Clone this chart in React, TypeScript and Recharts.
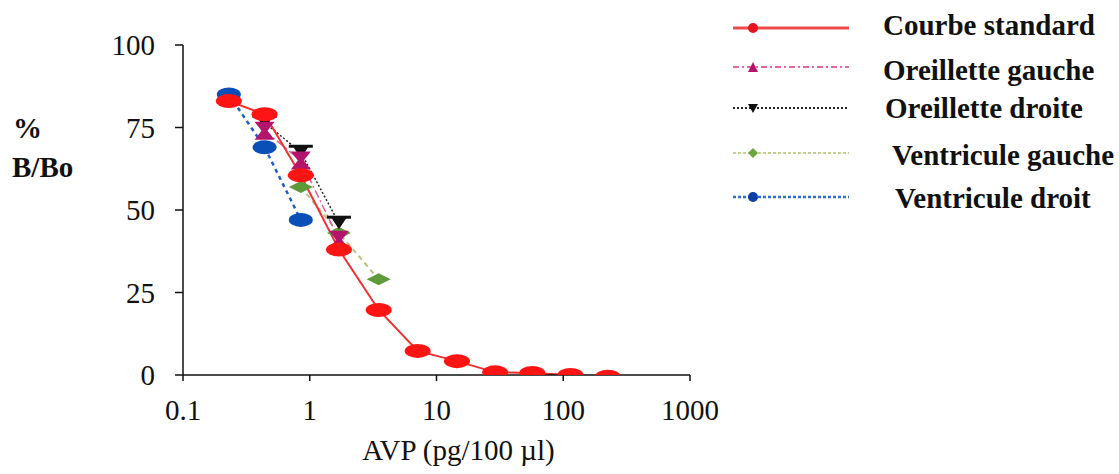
import React from "react"
import { LineChart, Line, XAxis, YAxis, Legend } from "recharts"

const stdDose = [0.23, 0.44, 0.85, 1.7, 3.5, 7.1, 14.5, 29, 57, 114, 225]
const stdValue = [83, 79, 60.5, 38, 19.7, 7.3, 4.2, 0.8, 0.6, 0, -0.5]

const ogDose = [0.44, 0.85, 1.7]
const ogValue = [74, 65, 41]

const odDose = [0.44, 0.85, 1.7]
const odValue = [76.5, 67.5, 46]

const vgDose = [0.85, 1.7, 3.5]
const vgValue = [57, 43, 29]

const vdDose = [0.23, 0.44, 0.85]
const vdValue = [85, 69, 47]

const xTicks = [0.1, 1, 10, 100, 1000]
const yTicks = [0, 25, 50, 75, 100]

const seriesNames = [
  "Courbe standard",
  "Oreillette gauche",
  "Oreillette droite",
  "Ventricule gauche",
  "Ventricule droit",
]

const toRows = (xs: number[], ys: number[]) => xs.map((x, i) => ({ x, v: ys[i] }))

const SERIF = "Liberation Serif, Times New Roman, serif"

const RedDot = (p: any) => (
  <ellipse key={p.key ?? p.index} cx={p.cx} cy={p.cy} rx={13} ry={7} fill="#ff1414" />
)
const BlueDot = (p: any) => (
  <ellipse key={p.key ?? p.index} cx={p.cx} cy={p.cy} rx={12} ry={7} fill="#0a4fb8" />
)
const PinkDot = (p: any) => {
  const { cx, cy } = p
  return (
    <polygon
      key={p.key ?? p.index}
      points={`${cx - 10},${cy - 9} ${cx + 10},${cy - 9} ${cx + 3},${cy} ${cx + 10},${cy + 9} ${cx - 10},${cy + 9} ${cx - 3},${cy}`}
      fill="#b3146c"
    />
  )
}
const BlackDot = (p: any) => {
  const { cx, cy } = p
  return (
    <g key={p.key ?? p.index}>
      <line x1={cx - 12} x2={cx + 12} y1={cy - 6} y2={cy - 6} stroke="#111" strokeWidth={3} />
      <polygon points={`${cx - 8},${cy - 6} ${cx + 8},${cy - 6} ${cx},${cy + 6}`} fill="#111" />
    </g>
  )
}
const GreenDot = (p: any) => {
  const { cx, cy } = p
  return (
    <polygon
      key={p.key ?? p.index}
      points={`${cx - 12},${cy} ${cx},${cy - 6} ${cx + 12},${cy} ${cx},${cy + 6}`}
      fill="#5e9a3a"
    />
  )
}

const legendRows = [
  { stroke: "#ef4a4a", dash: undefined, width: 3, lineY: 28, textY: 25, textX: 183 },
  { stroke: "#e8649e", dash: "6 3 2 3", width: 2, lineY: 67, textY: 70, textX: 183 },
  { stroke: "#222", dash: "2 2", width: 2, lineY: 108, textY: 108, textX: 185 },
  { stroke: "#c3cf8a", dash: "3 2", width: 2, lineY: 153, textY: 155, textX: 192 },
  { stroke: "#2f6fd0", dash: "3 2", width: 2.5, lineY: 197, textY: 198, textX: 195 },
]

const renderLegend = () => (
  <svg width={419} height={220} style={{ display: "block", fontFamily: SERIF }}>
    {legendRows.map((r, i) => {
      const mx = 53
      const my = r.lineY
      let marker: React.ReactNode = null
      if (i === 0) marker = <circle cx={mx} cy={my} r={5} fill="#e8141e" />
      if (i === 1) marker = <polygon points={`${mx - 5},${my + 5} ${mx + 5},${my + 5} ${mx},${my - 5}`} fill="#b3146c" />
      if (i === 2) marker = <polygon points={`${mx - 5},${my - 4} ${mx + 5},${my - 4} ${mx},${my + 5}`} fill="#111" />
      if (i === 3) marker = <polygon points={`${mx - 5},${my} ${mx},${my - 5} ${mx + 5},${my} ${mx},${my + 5}`} fill="#6aa63a" />
      if (i === 4) marker = <circle cx={mx} cy={my} r={5} fill="#0a3fa8" />
      return (
        <g key={seriesNames[i]}>
          <line x1={33} x2={149} y1={my} y2={my} stroke={r.stroke} strokeWidth={r.width} strokeDasharray={r.dash} />
          {marker}
          <text
            x={r.textX}
            y={r.textY}
            dominantBaseline="central"
            style={{ fontFamily: SERIF, fontWeight: "bold", fontSize: 29 }}
            fill="#111"
          >
            {seriesNames[i]}
          </text>
        </g>
      )
    })}
  </svg>
)

const tickStyle = { fontSize: 29, fontFamily: SERIF, fill: "#111", style: { fontFamily: SERIF } }

export default function App() {
  return (
    <div style={{ position: "absolute", left: 0, top: 0, background: "#fff", fontFamily: SERIF }}>
      <LineChart
        width={1119}
        height={474}
        margin={{ top: 45, right: 429, bottom: 39, left: 93 }}
        style={{ fontFamily: SERIF }}
      >
        <XAxis
          dataKey="x"
          type="number"
          scale="log"
          domain={[0.1, 1000]}
          ticks={xTicks}
          allowDataOverflow
          tickFormatter={(v: number) => String(v)}
          tick={tickStyle}
          tickSize={6}
          tickMargin={18}
          height={60}
          stroke="#111"
          strokeWidth={1.5}
          label={{
            content: (props: any) => {
              const vb = props.viewBox || { x: 183, width: 507 }
              return (
                <text
                  x={vb.x + vb.width / 2 + 22}
                  y={460}
                  textAnchor="middle"
                  style={{ fontFamily: SERIF, fontSize: 29 }}
                  fill="#111"
                >
                  AVP (pg/100 µl)
                </text>
              )
            },
          }}
        />
        <YAxis
          type="number"
          domain={[0, 100]}
          ticks={yTicks}
          allowDataOverflow
          tick={tickStyle}
          tickSize={8}
          tickMargin={20}
          width={90}
          stroke="#111"
          strokeWidth={1.5}
          label={{
            content: () => (
              <g style={{ fontFamily: SERIF, fontWeight: "bold", fontSize: 29 }} fill="#111">
                <text x={13} y={138}>%</text>
                <text x={12} y={177}>B/Bo</text>
              </g>
            ),
          }}
        />
        <Legend
          layout="vertical"
          align="center"
          verticalAlign="middle"
          content={renderLegend}
          wrapperStyle={{ left: 700, top: 0, width: 419, height: 220 }}
        />
        <Line
          data={toRows(vdDose, vdValue)}
          dataKey="v"
          name={seriesNames[4]}
          stroke="#1f5fc8"
          strokeWidth={2.5}
          strokeDasharray="4 4"
          dot={BlueDot}
          isAnimationActive={false}
        />
        <Line
          data={toRows(vgDose, vgValue)}
          dataKey="v"
          name={seriesNames[3]}
          stroke="#b5c57a"
          strokeWidth={2}
          strokeDasharray="5 4"
          dot={GreenDot}
          isAnimationActive={false}
        />
        <Line
          data={toRows(odDose, odValue)}
          dataKey="v"
          name={seriesNames[2]}
          stroke="#222"
          strokeWidth={1.5}
          strokeDasharray="2 2"
          dot={BlackDot}
          isAnimationActive={false}
        />
        <Line
          data={toRows(ogDose, ogValue)}
          dataKey="v"
          name={seriesNames[1]}
          stroke="#e0609a"
          strokeWidth={1.5}
          strokeDasharray="8 3 2 3"
          dot={PinkDot}
          isAnimationActive={false}
        />
        <Line
          data={toRows(stdDose, stdValue)}
          dataKey="v"
          name={seriesNames[0]}
          stroke="#f03030"
          strokeWidth={2}
          dot={RedDot}
          isAnimationActive={false}
        />
      </LineChart>
    </div>
  )
}
